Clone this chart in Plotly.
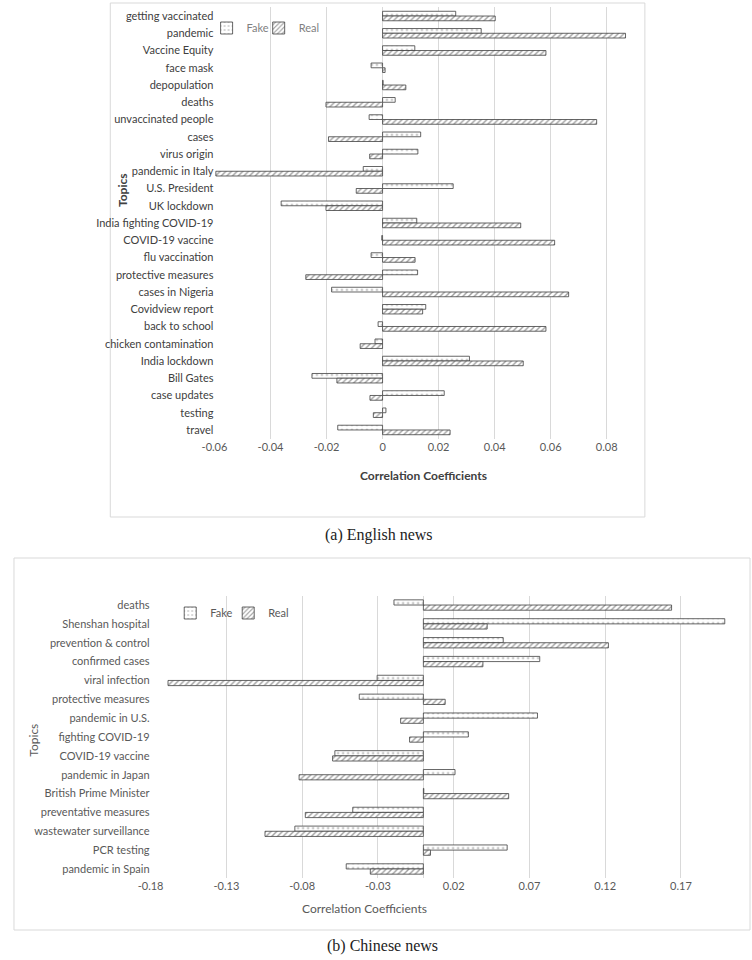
import plotly.graph_objects as go

# ---------------- data ----------------
en_topics = ["getting vaccinated", "pandemic", "Vaccine Equity", "face mask", "depopulation",
             "deaths", "unvaccinated people", "cases", "virus origin", "pandemic in Italy",
             "U.S. President", "UK lockdown", "India fighting COVID-19", "COVID-19 vaccine",
             "flu vaccination", "protective measures", "cases in Nigeria", "Covidview report",
             "back to school", "chicken contamination", "India lockdown", "Bill Gates",
             "case updates", "testing", "travel"]
en_fake = [0.0261, 0.0352, 0.0115, -0.0041, 0.0002, 0.0045, -0.0048, 0.0136, 0.0126, -0.0069,
           0.0252, -0.0362, 0.0122, -0.0003, -0.0041, 0.0125, -0.0182, 0.0154, -0.0016, -0.0027,
           0.0310, -0.0252, 0.0220, 0.0012, -0.0160]
en_real = [0.0402, 0.0867, 0.0583, 0.0009, 0.0083, -0.0202, 0.0764, -0.0193, -0.0046, -0.0595,
           -0.0094, -0.0202, 0.0493, 0.0614, 0.0116, -0.0274, 0.0664, 0.0143, 0.0583, -0.0080,
           0.0502, -0.0163, -0.0045, -0.0033, 0.0241]

zh_topics = ["deaths", "Shenshan hospital", "prevention & control", "confirmed cases",
             "viral infection", "protective measures", "pandemic in U.S.", "fighting COVID-19",
             "COVID-19 vaccine", "pandemic in Japan", "British Prime Minister",
             "preventative measures", "wastewater surveillance", "PCR testing", "pandemic in Spain"]
zh_fake = [-0.0194, 0.1989, 0.0527, 0.0768, -0.0305, -0.0423, 0.0753, 0.0297, -0.0584, 0.0209,
           0.0003, -0.0466, -0.0848, 0.0553, -0.0509]
zh_real = [0.1638, 0.0421, 0.1221, 0.0393, -0.1685, 0.0144, -0.0150, -0.0091, -0.0599, -0.0820,
           0.0563, -0.0779, -0.1045, 0.0047, -0.0350]

en_ticks = [-0.06, -0.04, -0.02, 0, 0.02, 0.04, 0.06, 0.08]
en_tick_labels = ["-0.06", "-0.04", "-0.02", "0", "0.02", "0.04", "0.06", "0.08"]
zh_ticks = [-0.18, -0.13, -0.08, -0.03, 0.02, 0.07, 0.12, 0.17]
zh_tick_labels = ["-0.18", "-0.13", "-0.08", "-0.03", "0.02", "0.07", "0.12", "0.17"]

# ---------------- styling ----------------
W, H = 752, 960
FONT = "Lato"
DARK = "#404040"
GRAY = "#595959"
GRID = "#d9d9d9"


def px(x):
    return x / W


def py(y):
    return 1 - y / H


fake_marker = dict(color="white", line=dict(color=DARK, width=0.8),
                   pattern=dict(shape=".", fgcolor=DARK, bgcolor="white", size=5, solidity=0.12))
real_marker = dict(color="white", line=dict(color=DARK, width=0.8),
                   pattern=dict(shape="/", fgcolor=DARK, bgcolor="white", size=4, solidity=0.35))

fig = go.Figure()
fig.add_trace(go.Bar(y=en_topics, x=en_fake, name="Fake", orientation="h", marker=fake_marker,
                     xaxis="x", yaxis="y", legend="legend", showlegend=True))
fig.add_trace(go.Bar(y=en_topics, x=en_real, name="Real", orientation="h", marker=real_marker,
                     xaxis="x", yaxis="y", legend="legend2", showlegend=True))
fig.add_trace(go.Bar(y=zh_topics, x=zh_fake, name="Fake", orientation="h", marker=fake_marker,
                     xaxis="x2", yaxis="y2", legend="legend3", showlegend=True))
fig.add_trace(go.Bar(y=zh_topics, x=zh_real, name="Real", orientation="h", marker=real_marker,
                     xaxis="x2", yaxis="y2", legend="legend4", showlegend=True))


def leg(x, y, color):
    return dict(orientation="h", x=px(x), y=py(y), xanchor="left", yanchor="middle",
                bgcolor="rgba(0,0,0,0)", font=dict(size=11, color=color), itemwidth=30)


fig.update_layout(
    width=W, height=H, autosize=False, showlegend=True,
    margin=dict(l=0, r=0, t=0, b=0),
    paper_bgcolor="white", plot_bgcolor="white",
    font=dict(family=FONT, size=11, color=DARK),
    barmode="group", bargap=0.45, bargroupgap=0,
    xaxis=dict(domain=[px(205), px(627)], range=[-0.06, 0.088], anchor="y",
               tickvals=en_ticks, ticktext=en_tick_labels, showgrid=True, gridcolor=GRID,
               gridwidth=1, zeroline=True, zerolinecolor=GRID, zerolinewidth=1,
               showline=False, ticks="", tickfont=dict(size=11, color=GRAY)),
    yaxis=dict(domain=[py(438.6), py(7.4)], anchor="x", autorange="reversed",
               type="category", showgrid=False, ticks="", showline=False,
               tickfont=dict(size=11, color=DARK)),
    xaxis2=dict(domain=[px(140), px(726)], range=[-0.18, 0.2], anchor="y2",
                tickvals=zh_ticks, ticktext=zh_tick_labels, showgrid=True, gridcolor=GRID,
                gridwidth=1, zeroline=True, zerolinecolor=GRID, zerolinewidth=1,
                showline=False, ticks="", tickfont=dict(size=11, color=GRAY)),
    yaxis2=dict(domain=[py(878.4), py(595.6)], anchor="x2", autorange="reversed",
                type="category", showgrid=False, ticks="", showline=False,
                tickfont=dict(size=11, color=GRAY)),
    legend=leg(197, 28, "#7f7f7f"),
    legend2=leg(250, 28, "#7f7f7f"),
    legend3=leg(160, 613, GRAY),
    legend4=leg(219, 613, GRAY),
    shapes=[
        dict(type="rect", xref="paper", yref="paper", x0=px(99), x1=px(643), y0=py(517), y1=py(3),
             line=dict(color=GRID, width=1), fillcolor="rgba(0,0,0,0)", layer="below"),
        dict(type="rect", xref="paper", yref="paper", x0=px(1), x1=px(750), y0=py(930), y1=py(558),
             line=dict(color=GRID, width=1), fillcolor="rgba(0,0,0,0)", layer="below"),
    ],
    annotations=[
        dict(text="<b>Correlation Coefficients</b>", x=px(418), y=py(475), xref="paper", yref="paper",
             xanchor="center", yanchor="middle", showarrow=False, font=dict(size=12, color=DARK)),
        dict(text="<b>Topics</b>", x=px(112), y=py(190), xref="paper", yref="paper",
             xanchor="center", yanchor="middle", showarrow=False, textangle=-90,
             font=dict(size=12, color=DARK)),
        dict(text="Correlation Coefficients", x=px(358), y=py(908), xref="paper", yref="paper",
             xanchor="center", yanchor="middle", showarrow=False, font=dict(size=12, color=GRAY)),
        dict(text="Topics", x=px(20), y=py(740), xref="paper", yref="paper",
             xanchor="center", yanchor="middle", showarrow=False, textangle=-90,
             font=dict(size=12, color=GRAY)),
        dict(text="(a) English news", x=px(372), y=py(535), xref="paper", yref="paper",
             xanchor="center", yanchor="middle", showarrow=False,
             font=dict(family="Liberation Serif", size=16, color="#222222")),
        dict(text="(b) Chinese news", x=px(376), y=py(946), xref="paper", yref="paper",
             xanchor="center", yanchor="middle", showarrow=False,
             font=dict(family="Liberation Serif", size=16, color="#222222")),
    ],
)

fig.write_html(
    "out.html",
    config={"displayModeBar": False, "responsive": False},
    post_script="document.body.style.margin='0px';document.body.style.overflow='hidden';"
                "document.documentElement.style.overflow='hidden';",
)
